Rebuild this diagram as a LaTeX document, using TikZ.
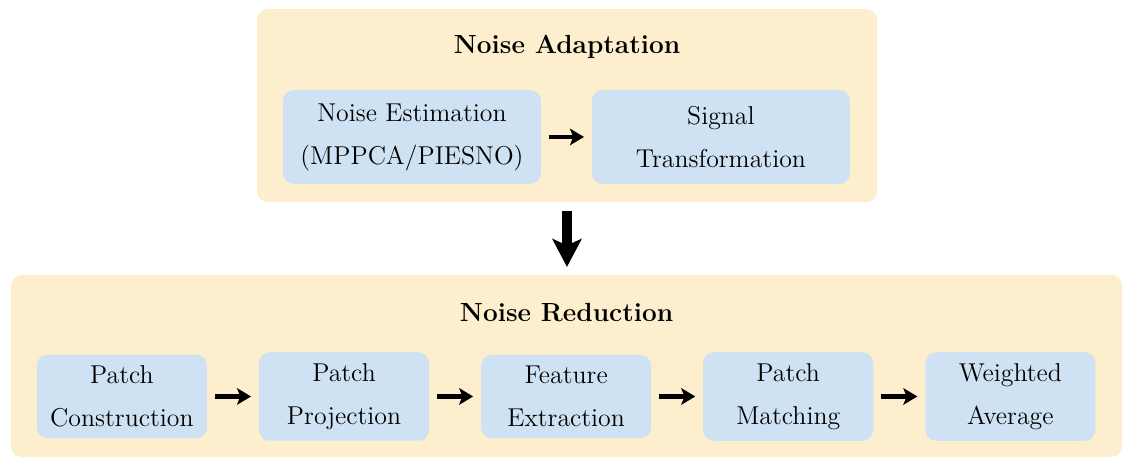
\documentclass[tikz,border=0pt]{standalone}
\usepackage{xcolor}
\usepackage{tikz}
\usetikzlibrary{shapes,arrows.meta,positioning}
\definecolor{panelbg}{RGB}{253,238,206}
\definecolor{stagebg}{RGB}{207,226,243}

\begin{document}
\begin{tikzpicture}[auto]
    \tikzstyle{panel} = [rectangle, rounded corners=5pt, fill=panelbg, outer sep=0pt]
    \tikzstyle{paneltitle} = [font=\fontsize{12.2pt}{14pt}\selectfont\bfseries]
    \tikzstyle{stage} = [rectangle, rounded corners=5pt, fill=stagebg, align=center, outer sep=0pt, inner xsep=2pt, inner ysep=5.2pt, font=\fontsize{12pt}{20pt}\selectfont]
    \tikzstyle{arrow} = [line width=2pt, -{Stealth[length=6.5pt, width=7.7pt, inset=1.5pt]}, shorten <=3.7pt, shorten >=3.7pt]
    \tikzstyle{bigarrow} = [line width=4.2pt, -{Stealth[length=13pt, width=13.5pt, inset=3pt]}, shorten <=4.2pt, shorten >=3.7pt]

    \useasboundingbox (0,0) rectangle (522.3pt,-213pt);

    % upper block
    \node (adapt) [panel, minimum width=288.4pt, minimum height=89.8pt] at (263.7pt,-49.1pt) {};
    \node (adapttitle) [paneltitle] at (263.7pt,-21.9pt) {Noise Adaptation};
    \node (estim) [stage, minimum width=120pt, minimum height=43.7pt] at (191.6pt,-63.7pt) {Noise Estimation\\(MPPCA/PIESNO)};
    \node (transf) [stage, minimum width=120pt, minimum height=43.7pt, right=23.7pt of estim] {Signal\\Transformation};

    % lower block
    \node (reduce) [panel, minimum width=516.7pt, minimum height=84.7pt] at (263.5pt,-170.2pt) {};
    \node (reducetitle) [paneltitle] at (263.5pt,-145.6pt) {Noise Reduction};
    \node (construct) [stage, minimum width=79.1pt] at (56.7pt,-184.4pt) {Patch\\Construction};
    \node (project) [stage, minimum width=79.1pt, right=24.2pt of construct] {Patch\\Projection};
    \node (extract) [stage, minimum width=79.1pt, right=24.2pt of project] {Feature\\Extraction};
    \node (match) [stage, minimum width=79.1pt, right=24.2pt of extract] {Patch\\Matching};
    \node (average) [stage, minimum width=79.1pt, right=24.2pt of match] {Weighted\\Average};

    \draw [arrow] (estim) -- (transf);
    \draw [bigarrow] (adapt.south) -- (adapt.south |- reduce.north);
    \draw [arrow] (construct) -- (project);
    \draw [arrow] (project) -- (extract);
    \draw [arrow] (extract) -- (match);
    \draw [arrow] (match) -- (average);
\end{tikzpicture}
\end{document}
